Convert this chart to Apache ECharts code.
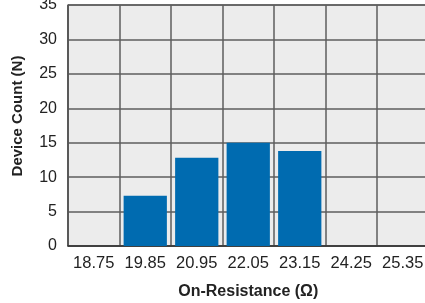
<!DOCTYPE html>
<html>
<head>
<meta charset="utf-8">
<script src="https://cdn.jsdelivr.net/npm/echarts@6/dist/echarts.min.js"></script>
<style>html,body{margin:0;padding:0;background:#fff}#c{width:425px;height:303px}</style>
</head>
<body>
<div id="c"></div>
<script>
// Bin labels (x categories) and counts per bin
var binLabels = ['18.75', '19.85', '20.95', '22.05', '23.15', '24.25', '25.35'];
var counts = [0, 7.3, 12.8, 15, 13.8, 0, 0];
var yTicks = [0, 5, 10, 15, 20, 25, 30, 35];

var chart = echarts.init(document.getElementById('c'), null, { renderer: 'canvas' });
var font = '"Liberation Sans", Arial, Helvetica, sans-serif';
chart.setOption({
  animation: false,
  grid: {
    left: 68, top: 5, right: -3.5, bottom: 57,
    outerBoundsMode: 'none', containLabel: false,
    show: true, backgroundColor: '#ececec', borderColor: '#222', borderWidth: 1
  },
  xAxis: {
    type: 'category', data: binLabels, boundaryGap: true,
    name: 'On-Resistance (\u03A9)', nameLocation: 'middle', nameGap: 38,
    nameTextStyle: { fontFamily: font, fontWeight: 'bold', fontSize: 16, color: '#222' },
    axisLine: { show: true, lineStyle: { color: '#333', width: 1.5 } },
    axisTick: { show: false },
    axisLabel: { fontFamily: font, fontSize: 16.5, color: '#222', margin: 9, interval: 0 },
    splitLine: { show: true, interval: 0, lineStyle: { color: '#5e5e5e', width: 1.5 } }
  },
  yAxis: {
    type: 'value', min: yTicks[0], max: yTicks[yTicks.length - 1], interval: 5,
    name: 'Device Count (N)', nameLocation: 'middle', nameGap: 43,
    nameTextStyle: { fontFamily: font, fontWeight: 'bold', fontSize: 15, color: '#222', padding: [0, 0, 0, 19] },
    axisLine: { show: true, lineStyle: { color: '#555', width: 1.5 } },
    axisTick: { show: false },
    axisLabel: { fontFamily: font, fontSize: 16, color: '#222', margin: 11 },
    splitLine: { show: true, lineStyle: { color: '#5e5e5e', width: 1.5 } }
  },
  series: [{
    type: 'bar',
    data: counts,
    barCategoryGap: '16%',
    itemStyle: { color: '#006bb0' }
  }]
});
</script>
</body>
</html>
